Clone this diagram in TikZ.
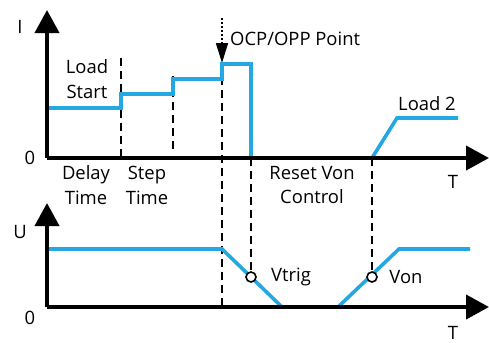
\documentclass[tikz,border=0pt]{standalone}
\usepackage{fontspec}
\setmainfont{Open Sans}
\usetikzlibrary{arrows.meta}
\definecolor{sigblue}{RGB}{36,168,225}
\tikzset{
  axis/.style={line width=4bp, -{Triangle[width=24bp,length=23bp]}},
  sig/.style={sigblue, line width=3.6bp, line join=miter},
  guide/.style={black, line width=1.8bp, dash pattern=on 8bp off 5bp},
  lbl/.style={font=\fontsize{18.5}{25}\selectfont, inner sep=0pt, align=center},
  ringmark/.style={circle, draw=black, fill=white, line width=1.6bp, minimum size=10bp, inner sep=0pt}
}
\begin{document}
\begin{tikzpicture}[x=1bp,y=-1bp]
\useasboundingbox (0,0) rectangle (489,342);
% axis coordinates
\coordinate (o1) at (47,158);
\coordinate (yt1) at (47,10);
\coordinate (xt1) at (489,158);
\coordinate (o2) at (47,307);
\coordinate (yt2) at (47,203);
\coordinate (xt2) at (489,307);
% dashed guides
\coordinate (d1a) at (121,58); \coordinate (d1b) at (121,158);
\coordinate (d2a) at (173,76); \coordinate (d2b) at (173,152);
\coordinate (d3a) at (222,64); \coordinate (d3b) at (222,307);
\coordinate (d4a) at (251,158); \coordinate (d4b) at (251,272);
\coordinate (d5a) at (372,158); \coordinate (d5b) at (372,272);
\draw[guide] (d1a) -- (d1b);
\draw[guide] (d2a) -- (d2b);
\draw[guide] (d3a) -- (d3b);
\draw[guide] (d4a) -- (d4b);
\draw[guide] (d5a) -- (d5b);
% dotted arrow
\coordinate (pa) at (222,18);
\coordinate (pb) at (222,63);
\draw[line width=1.6bp, dash pattern=on 2bp off 2bp, -{Triangle[width=12bp,length=20bp]}] (pa) -- (pb);
% current signal
\draw[sig] (47,108) -- (121,108) -- (121,94) -- (173,94) -- (173,79) -- (222,79) -- (222,64) -- (251,64) -- (251,158);
\draw[sig] (372,158) -- (397,118) -- (458,118);
% voltage signal
\draw[sig] (47,249) -- (222,249) -- (282,307);
\draw[sig] (338,307) -- (399,249) -- (470,249);
% axes
\draw[axis] (o1) -- (yt1);
\draw[axis] (o1) -- (xt1);
\draw[axis] (o2) -- (yt2);
\draw[axis] (o2) -- (xt2);
% markers
\node[ringmark] (vt) at (251,277) {};
\node[ringmark] (vo) at (372,277) {};
% labels
\node[lbl] (li) at (20,27) {I};
\node[lbl] (l01) at (30,158) {0};
\node[lbl] (lu) at (20,232) {U};
\node[lbl] (l02) at (30,318) {0};
\node[lbl] (lt1) at (453,182) {T};
\node[lbl] (lt2) at (453,333) {T};
\node[lbl] (ls) at (87,79) {Load\\Start};
\node[lbl, anchor=west] (ocp) at (230,39) {OCP/OPP Point};
\node[lbl] (l2) at (427,104) {Load 2};
\node[lbl] (dt) at (86,185) {Delay\\Time};
\node[lbl] (st) at (147,185) {Step\\Time};
\node[lbl] (rv) at (312,185) {Reset Von\\Control};
\node[lbl] (vtl) at (291,277) {Vtrig};
\node[lbl] (vol) at (406,277) {Von};
\end{tikzpicture}
\end{document}
